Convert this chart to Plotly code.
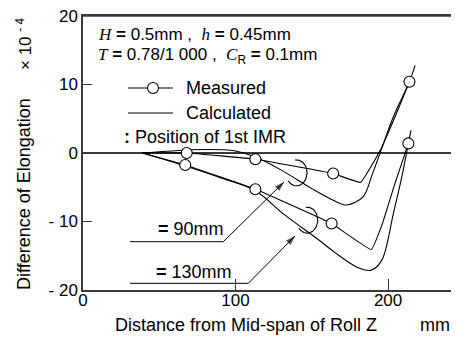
import numpy as np
import plotly.graph_objects as go

# ---------------- data ----------------
meas90_x = [68, 113, 164, 214]
meas90_y = [0.0, -0.9, -3.0, 10.4]
meas130_x = [67, 113, 163, 213.3]
meas130_y = [-1.75, -5.3, -10.3, 1.4]

meas90_line_x = [39, 68, 113, 164, 182, 188, 196, 205, 214]
meas90_line_y = [0.0, 0.0, -0.9, -3.0, -4.3, -2.3, 0.9, 5.5, 10.4]
meas130_line_x = [39, 67, 113, 163, 189, 196, 204, 213.3]
meas130_line_y = [0.0, -1.75, -5.3, -10.3, -14.1, -10.5, -4.8, 1.4]

calc90_x = [39, 55, 80, 100, 113, 130, 150, 164, 173, 183.6, 190, 203.5, 214, 217.7]
calc90_y = [0.0, 0.25, 0.5, 0.3, -0.6, -2.5, -5.2, -6.9, -7.6, -6.4, -2.9, 5.3, 10.4, 12.8]
calc130_x = [39, 67, 90, 113, 132, 154, 165, 180, 189, 196, 203.5, 209, 213.3, 215]
calc130_y = [0.0, -1.9, -3.6, -5.5, -9.0, -12.6, -14.5, -16.7, -17.1, -15.6, -8.8, -3.5, 1.4, 3.3]

imr_x = [140, 147]
imr_y = [-2.9, -9.8]

y_tickvals = [-20, -10, 0, 10, 20]
y_ticktext = ["- 20", "- 10", "0", "10", "20"]
x_tickvals = [0, 100, 200]
x_ticktext = ["0", "100", "200"]

# ---------------- layout constants (screen px; page body has an 8px margin) ----------------
OFF = 8
SW, SH = 459, 338            # screen
PL, PR, PT, PB = 83, 459, 16, 290   # plot area on screen
W, H = SW - OFF, SH - OFF
ML, MT = PL - OFF, PT - OFF
MR, MB = SW - PR, SH - PB
XR = [0, 246.5]
YR = [-20, 20]
sx = (PR - PL) / (XR[1] - XR[0])
sy = (PB - PT) / (YR[1] - YR[0])

FONT = "Liberation Sans, Arial, sans-serif"
SERIF = "Liberation Serif, Times New Roman, serif"
AX = "#3a3a3a"
FS = 18

fig = go.Figure()

LW = 1.1
for lx, ly in [(calc90_x, calc90_y), (calc130_x, calc130_y)]:
    fig.add_trace(go.Scatter(x=lx, y=ly, mode="lines",
                             line=dict(color="black", width=LW, shape="spline", smoothing=0.9),
                             showlegend=False, hoverinfo="skip"))
for lx, ly in [(meas90_line_x, meas90_line_y), (meas130_line_x, meas130_line_y)]:
    fig.add_trace(go.Scatter(x=lx, y=ly, mode="lines",
                             line=dict(color="black", width=LW, shape="spline", smoothing=0.25),
                             showlegend=False, hoverinfo="skip"))
for mx, my in [(meas90_x, meas90_y), (meas130_x, meas130_y)]:
    fig.add_trace(go.Scatter(x=mx, y=my, mode="markers",
                             marker=dict(symbol="circle", size=11, color="white",
                                         line=dict(color="black", width=1.1)),
                             showlegend=False, hoverinfo="skip"))

# IMR position arcs (open ring markers)
for cx, cy in zip(imr_x, imr_y):
    t = np.deg2rad(np.linspace(98, -142, 40))
    ax_ = cx + 10.5 * np.cos(t) / sx
    ay_ = cy + 13.0 * np.sin(t) / sy
    fig.add_trace(go.Scatter(x=ax_, y=ay_, mode="lines",
                             line=dict(color="black", width=1.1),
                             showlegend=False, hoverinfo="skip"))

shapes = []
annotations = []

def sx2d(px):
    return XR[0] + (px - PL) / sx

def sy2d(py):
    return YR[1] - (py - PT) / sy

# leaders with arrows (screen positions)
leaders = [
    dict(p=[(130, 241.7), (223.3, 241.7), (284, 182)], label="<b>=</b> 90mm", lpos=(156, 229)),
    dict(p=[(130, 283.3), (248.3, 283.3), (295, 236)], label="<b>=</b> 130mm", lpos=(154, 272)),
]
for L in leaders:
    lx = [sx2d(p[0]) for p in L["p"]]
    ly = [sy2d(p[1]) for p in L["p"]]
    fig.add_trace(go.Scatter(x=lx, y=ly, mode="lines+markers",
                             line=dict(color="black", width=1),
                             marker=dict(symbol="arrow", size=[0, 0, 10], color="black",
                                         angleref="previous", line=dict(width=0)),
                             showlegend=False, hoverinfo="skip"))
    annotations.append(dict(x=sx2d(L["lpos"][0]), y=sy2d(L["lpos"][1]), xref="x", yref="y",
                            text=L["label"], showarrow=False, xanchor="left", yanchor="middle",
                            font=dict(size=FS, family=FONT, color="black")))

def px2paper(px, py):
    return (px - PL) / (PR - PL), (PB - py) / (PB - PT)

# top frame line
shapes.append(dict(type="line", xref="paper", yref="paper", x0=0, x1=1, y0=1, y1=1,
                   line=dict(color=AX, width=1.5)))

# parameter text
it = lambda s: f"<span style='font-family:{SERIF};font-style:italic'>{s}</span>"
for txt, py in [(f"{it('H')} <b>=</b> 0.5mm ,  {it('h')} <b>=</b> 0.45mm", 34),
                (f"{it('T')} <b>=</b> 0.78/1 000 ,  {it('C')}<sub>R</sub> <b>=</b> 0.1mm", 56)]:
    xp, yp = px2paper(96, py)
    annotations.append(dict(x=xp, y=yp, xref="paper", yref="paper", text=txt, showarrow=False,
                            xanchor="left", yanchor="middle", font=dict(size=17, family=FONT, color="black")))

# legend
for py, label, marker in [(88, "Measured", True), (113, "Calculated", False)]:
    x0, yp = px2paper(128, py)
    x1, _ = px2paper(173, py)
    shapes.append(dict(type="line", xref="paper", yref="paper", x0=x0, x1=x1, y0=yp, y1=yp,
                       line=dict(color="black", width=1.1)))
    if marker:
        xc, _ = px2paper(153, py)
        shapes.append(dict(type="circle", xref="paper", yref="paper", xsizemode="pixel", ysizemode="pixel",
                           xanchor=xc, yanchor=yp, x0=-5.5, x1=5.5, y0=-5.5, y1=5.5,
                           fillcolor="white", line=dict(color="black", width=1.1)))
    xt, _ = px2paper(184, py)
    annotations.append(dict(x=xt, y=yp, xref="paper", yref="paper", text=label, showarrow=False,
                            xanchor="left", yanchor="middle", font=dict(size=FS, family=FONT, color="black")))
xp, yp = px2paper(122, 137)
annotations.append(dict(x=xp, y=yp, xref="paper", yref="paper", text="<b>:</b> Position of 1st IMR",
                        showarrow=False, xanchor="left", yanchor="middle",
                        font=dict(size=FS, family=FONT, color="black")))

# axis titles
xp, yp = px2paper(246, 325)
annotations.append(dict(x=xp, y=yp, xref="paper", yref="paper", text="Distance from Mid-span of Roll Z",
                        showarrow=False, xanchor="center", yanchor="middle",
                        font=dict(size=FS, family=FONT, color="black")))
xp, yp = px2paper(435, 325)
annotations.append(dict(x=xp, y=yp, xref="paper", yref="paper", text="mm",
                        showarrow=False, xanchor="center", yanchor="middle",
                        font=dict(size=FS, family=FONT, color="black")))
xp, yp = px2paper(24, 194)
annotations.append(dict(x=xp, y=yp, xref="paper", yref="paper", text="Difference of Elongation",
                        showarrow=False, xanchor="center", yanchor="middle", textangle=-90,
                        font=dict(size=FS, family=FONT, color="black")))
xp, yp = px2paper(24, 44)
annotations.append(dict(x=xp, y=yp, xref="paper", yref="paper", text="× 10 <sup>- 4</sup>",
                        showarrow=False, xanchor="center", yanchor="middle", textangle=-90,
                        font=dict(size=17, family=FONT, color="black")))

fig.update_layout(
    width=W, height=H,
    margin=dict(l=ML, r=MR, t=MT, b=MB, pad=0),
    paper_bgcolor="white", plot_bgcolor="white",
    showlegend=False,
    shapes=shapes, annotations=annotations,
    xaxis=dict(range=XR, showgrid=False, zeroline=False, showline=True, linecolor=AX, linewidth=1.5,
               mirror=True, ticks="inside", ticklen=11, tickwidth=1, tickcolor=AX,
               tickvals=x_tickvals, ticktext=x_ticktext, ticklabelstandoff=-6,
               tickfont=dict(size=17, family=FONT, color="black"), fixedrange=True),
    yaxis=dict(range=YR, showgrid=False, zeroline=True, zerolinecolor=AX, zerolinewidth=1.5,
               showline=True, linecolor=AX, linewidth=1.5,
               ticks="inside", ticklen=9, tickwidth=1, tickcolor=AX,
               tickvals=y_tickvals, ticktext=y_ticktext, ticklabeloverflow="allow",
               tickfont=dict(size=17, family=FONT, color="black"), fixedrange=True),
)

fig.write_html("out.html")
